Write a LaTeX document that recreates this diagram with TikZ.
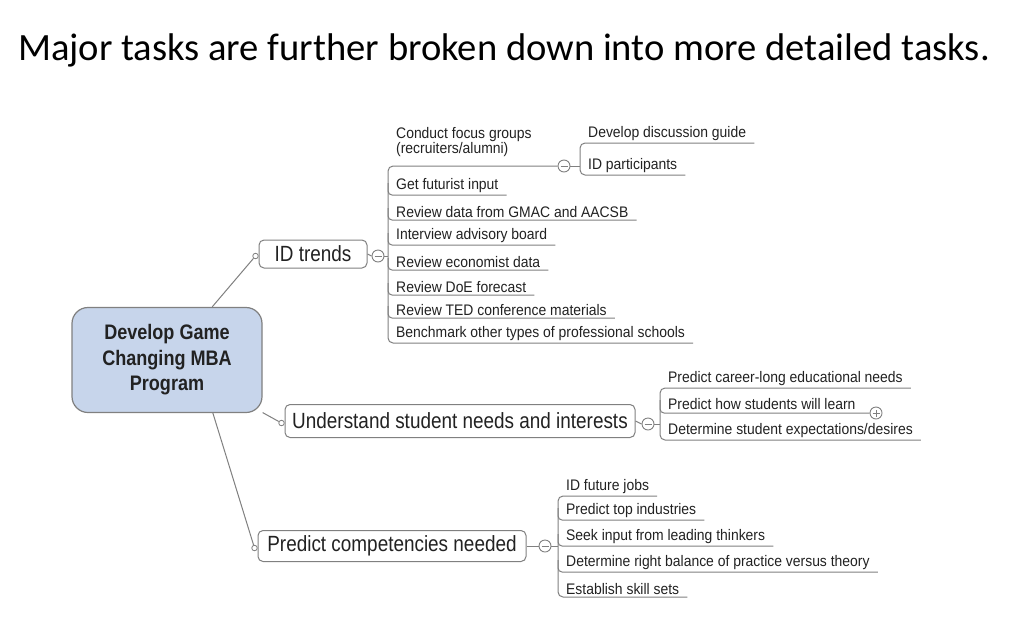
\documentclass[tikz,border=0pt]{standalone}
\usepackage{fontspec}
\setmainfont{Carlito}
\newfontfamily\condf[FakeStretch=0.86]{Liberation Sans}
\newfontfamily\subf[FakeStretch=0.91]{Liberation Sans}
\usetikzlibrary{calc}
\definecolor{linegray}{HTML}{808080}
\definecolor{rootblue}{HTML}{C7D5EB}
\definecolor{txt}{HTML}{222222}
\begin{document}
\begin{tikzpicture}[x=1pt,y=-1pt,
 topic/.style={draw=linegray, line width=1pt, rounded corners=5pt, fill=white, inner sep=0pt, font=\condf\fontsize{22}{24}\selectfont, text=txt},
 sub/.style={anchor=south west, inner xsep=8pt, inner ysep=2.5pt, font=\subf\fontsize{15.3}{15}\selectfont, text=txt, align=left},
 conn/.style={draw=linegray, line width=1pt},
 toggle/.style={circle, draw=linegray, line width=0.9pt, fill=white, minimum size=12pt, inner sep=0pt,
   path picture={\draw[linegray, line width=0.9pt] ([xshift=-3.5pt]path picture bounding box.center) -- ([xshift=3.5pt]path picture bounding box.center);}},
 plustoggle/.style={circle, draw=linegray, line width=0.9pt, fill=white, minimum size=12pt, inner sep=0pt,
   path picture={\draw[linegray, line width=0.9pt] ([xshift=-3.5pt]path picture bounding box.center) -- ([xshift=3.5pt]path picture bounding box.center) ([yshift=-3.5pt]path picture bounding box.center) -- ([yshift=3.5pt]path picture bounding box.center);}},
 dot/.style={circle, draw=linegray, line width=0.8pt, fill=white, minimum size=5.5pt, inner sep=0pt},
 jl/.style={conn, rounded corners=4pt},
]
\fill[white] (0,0) rectangle (1024,627);
\useasboundingbox (0,0) rectangle (1024,627);

% title
\node[font=\fontsize{38.6}{42}\selectfont, anchor=base, inner sep=0pt] (title) at (504,60) {Major tasks are further broken down into more detailed tasks.};

% root
\node[draw=linegray, line width=1.2pt, fill=rootblue, rounded corners=16pt, minimum width=190pt, minimum height=105pt, align=center, inner sep=0pt,
  font=\condf\bfseries\fontsize{21}{25.5}\selectfont, text=txt] (root) at (167,360) {Develop Game\\Changing MBA\\Program};

% main topics
\node[topic, minimum width=108pt, minimum height=28pt] (idt) at (313,254) {ID trends};
\node[topic, minimum width=350pt, minimum height=33pt] (und) at (460,421) {Understand student needs and interests};
\node[topic, minimum width=268pt, minimum height=31pt] (pc) at (392,546) {Predict competencies needed};

\node[dot] (idtd) at ($(idt.west)+(-3,2)$) {};
\node[dot] (undd) at ($(und.west)+(-3,2)$) {};
\node[dot] (pcd) at ($(pc.west)+(-3,2)$) {};

\draw[conn] (root) -- (idtd);
\draw[conn] (root) -- (undd);
\draw[conn] ($(root.south east)!0.26!(root.south west)$) -- (pcd);

% ID trends children
\node[sub, inner ysep=8pt] (c1) at (388,165) {Conduct focus groups\\(recruiters/alumni)};
\node[sub] (c2) at (388,195) {Get futurist input};
\node[sub] (c3) at (388,220) {Review data from GMAC and AACSB};
\node[sub] (c4) at (388,245) {Interview advisory board};
\node[sub] (c5) at (388,270) {Review economist data};
\node[sub] (c6) at (388,295) {Review DoE forecast};
\node[sub] (c7) at (388,318) {Review TED conference materials};
\node[sub] (c8) at (388,343) {Benchmark other types of professional schools};
\node[toggle] (tgc) at (564,166) {};
\node[toggle] (tg1) at (378,256) {};

\draw[conn] (idt.east) -- (tg1.west);
\draw[conn] (tg1.east) -- (tg1.east -| c1.south west);
\draw[conn, rounded corners=5pt] (tgc.west) -| (c8.south west) -- (c8.south east);
\foreach \n in {c2,c3,c4,c5,c6,c7} {
  \draw[jl] ($(\n.south west)+(0,-12)$) |- (\n.south east);
}

\node[sub] (d1) at (580,143) {Develop discussion guide};
\node[sub] (d2) at (580,175) {ID participants};
\draw[conn] (tgc.east) -- (tgc.east -| d1.south west);
\draw[conn, rounded corners=5pt] (d1.south east) -| (d2.south west) -- (d2.south east);

% Understand children
\node[sub] (e1) at (660,388) {Predict career-long educational needs};
\node[sub] (e2) at (660,412) {Predict how students will learn};
\node[sub] (e3) at (660,440) {Determine student expectations/desires};
\node[toggle] (tg2) at (648,424) {};
\node[plustoggle] (pl) at (876,413) {};
\draw[conn] (und.east) -- (tg2.west);
\draw[conn] (tg2.east) -- (tg2.east -| e1.south west);
\draw[conn, rounded corners=5pt] (e1.south east) -| (e3.south west) -- (e3.south east);
\draw[jl] ($(e2.south west)+(0,-12)$) |- (pl.west);

% Predict competencies children
\node[sub] (f1) at (558,496) {ID future jobs};
\node[sub] (f2) at (558,520) {Predict top industries};
\node[sub] (f3) at (558,546) {Seek input from leading thinkers};
\node[sub] (f4) at (558,572) {Determine right balance of practice versus theory};
\node[sub] (f5) at (558,597) {Establish skill sets};
\node[toggle] (tg3) at (545,546) {};
\draw[conn] (pc.east) -- (tg3.west);
\draw[conn] (tg3.east) -- (tg3.east -| f1.south west);
\draw[conn, rounded corners=5pt] (f1.south east) -| (f5.south west) -- (f5.south east);
\foreach \n in {f2,f3,f4} {
  \draw[jl] ($(\n.south west)+(0,-12)$) |- (\n.south east);
}
\end{tikzpicture}
\end{document}
